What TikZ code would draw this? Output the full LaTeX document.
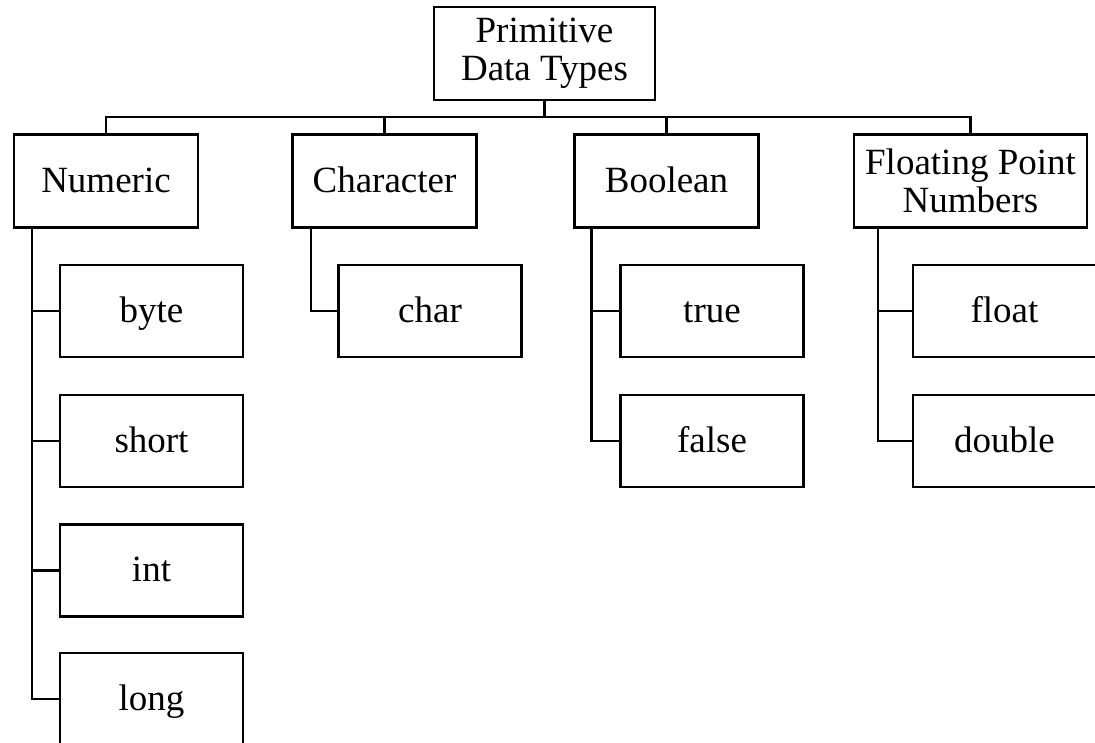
\documentclass[tikz,border=0pt]{standalone}
\usepackage{fontspec}
\setmainfont{Liberation Serif}
\tikzset{
    type-box/.style = {draw, line width=2.2pt, rectangle, align=center, inner sep=0pt, font=\fontsize{37}{38}\selectfont},
    group-box/.style = {type-box, minimum width=184pt, minimum height=93pt},
    leaf-box/.style = {type-box, minimum width=183pt, minimum height=92pt, text height=28pt, text depth=6pt},
    tree-line/.style = {line width=2.2pt},
}
\begin{document}
\begin{tikzpicture}[x=1pt, y=-1pt]
\useasboundingbox (0,0) rectangle (1095,742);
\clip (0,0) rectangle (1095,742);
\node[type-box, minimum width=221pt, minimum height=93pt] (root) at (544.5,53.5) {Primitive\\Data Types};
\node[group-box, text height=28pt, text depth=6pt] (num) at (106,181) {Numeric};
\node[group-box, text height=28pt, text depth=6pt] (chr) at (384.5,181) {Character};
\node[group-box, text height=28pt, text depth=6pt] (bool) at (666.5,181) {Boolean};
\node[group-box, minimum width=233pt] (flt) at (970.5,181) {Floating Point\\Numbers};
\node[leaf-box] (byte) at (151.5,311) {byte};
\node[leaf-box] (short) at (151.5,441) {short};
\node[leaf-box] (int) at (151.5,570.5) {int};
\node[leaf-box] (long) at (151.5,699) {long};
\node[leaf-box] (char) at (430,311) {char};
\node[leaf-box] (true) at (712,311) {true};
\node[leaf-box] (false) at (712,441) {false};
\node[leaf-box] (float) at (1004.5,311) {float};
\node[leaf-box] (double) at (1004.5,441) {double};
\foreach \c in {num,chr,bool,flt}
    \draw[tree-line] (root.south) -- ++(0,16) -| (\c.north);
\foreach \p/\o/\k in {num/19/{byte,short,int,long}, chr/19.5/{char}, bool/18/{true,false}, flt/25/{float,double}}
    \foreach \c in \k
        \draw[tree-line] ([xshift=\o pt]\p.south west) |- (\c.west);
\end{tikzpicture}
\end{document}
